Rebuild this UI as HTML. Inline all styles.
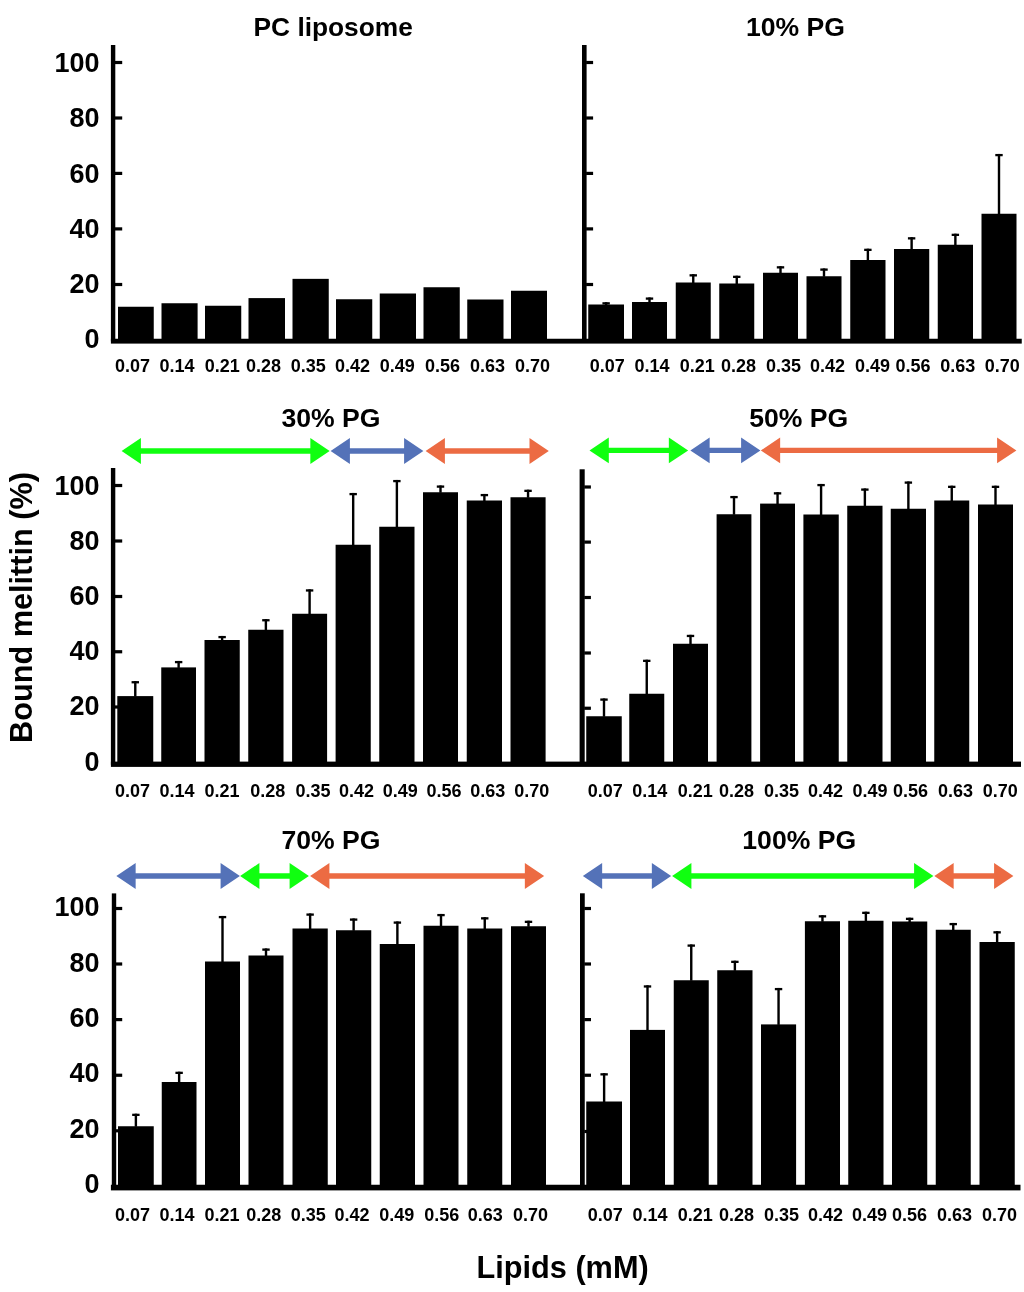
<!DOCTYPE html>
<html lang="en"><head><meta charset="utf-8"><title>Bound melittin vs lipids</title>
<style>html,body{margin:0;padding:0;background:#fff}svg{display:block}text{font-family:"Liberation Sans", Arial, Helvetica, sans-serif;font-weight:700;fill:#000}</style></head><body>
<svg width="1024" height="1292" viewBox="0 0 1024 1292">
<rect width="1024" height="1292" fill="#fff"/>
<g id="panelA">
<rect x="118" y="306.75" width="35.75" height="33.15"/>
<rect x="161.5" y="303.25" width="36.1" height="36.65"/>
<rect x="205" y="305.75" width="36.25" height="34.15"/>
<rect x="248.5" y="298.1" width="36.5" height="41.8"/>
<rect x="292.5" y="278.85" width="36.25" height="61.05"/>
<rect x="336" y="299.25" width="36.25" height="40.65"/>
<rect x="379.75" y="293.5" width="36.25" height="46.4"/>
<rect x="423.5" y="287.25" width="36.25" height="52.65"/>
<rect x="467.25" y="299.5" width="36.25" height="40.4"/>
<rect x="511" y="290.75" width="36" height="49.15"/>
</g>
<g id="panelB">
<rect x="588.25" y="304.5" width="35.75" height="35.4"/>
<rect x="604.92" y="302.2" width="2.4" height="2.8"/>
<rect x="602.42" y="302.2" width="7.4" height="2.3"/>
<rect x="632" y="302" width="35" height="37.9"/>
<rect x="648.3" y="297.45" width="2.4" height="5.05"/>
<rect x="645.8" y="297.45" width="7.4" height="2.3"/>
<rect x="675.75" y="282.5" width="35" height="57.4"/>
<rect x="692.05" y="274.2" width="2.4" height="8.8"/>
<rect x="689.55" y="274.2" width="7.4" height="2.3"/>
<rect x="719.25" y="283.5" width="35" height="56.4"/>
<rect x="735.55" y="275.7" width="2.4" height="8.3"/>
<rect x="733.05" y="275.7" width="7.4" height="2.3"/>
<rect x="763" y="272.75" width="35" height="67.15"/>
<rect x="779.3" y="266.2" width="2.4" height="7.05"/>
<rect x="776.8" y="266.2" width="7.4" height="2.3"/>
<rect x="806.5" y="276.25" width="35" height="63.65"/>
<rect x="822.8" y="268.45" width="2.4" height="8.3"/>
<rect x="820.3" y="268.45" width="7.4" height="2.3"/>
<rect x="850.25" y="260" width="35.25" height="79.9"/>
<rect x="866.67" y="248.7" width="2.4" height="11.8"/>
<rect x="864.17" y="248.7" width="7.4" height="2.3"/>
<rect x="894" y="249" width="35.25" height="90.9"/>
<rect x="910.42" y="237.2" width="2.4" height="12.3"/>
<rect x="907.92" y="237.2" width="7.4" height="2.3"/>
<rect x="937.75" y="244.75" width="35.25" height="95.15"/>
<rect x="954.17" y="233.7" width="2.4" height="11.55"/>
<rect x="951.67" y="233.7" width="7.4" height="2.3"/>
<rect x="981.5" y="213.75" width="35" height="126.15"/>
<rect x="997.8" y="153.95" width="2.4" height="60.3"/>
<rect x="995.3" y="153.95" width="7.4" height="2.3"/>
</g>
<g id="panelC">
<rect x="117.3" y="696.1" width="35.95" height="66.9"/>
<rect x="134.08" y="681.1" width="2.4" height="15.5"/>
<rect x="131.58" y="681.1" width="7.4" height="2.3"/>
<rect x="161.25" y="667.4" width="34.75" height="95.6"/>
<rect x="177.43" y="660.95" width="2.4" height="6.95"/>
<rect x="174.93" y="660.95" width="7.4" height="2.3"/>
<rect x="204.5" y="640" width="35.25" height="123"/>
<rect x="220.93" y="635.95" width="2.4" height="4.55"/>
<rect x="218.43" y="635.95" width="7.4" height="2.3"/>
<rect x="248.25" y="629.75" width="35.25" height="133.25"/>
<rect x="264.68" y="619.1" width="2.4" height="11.15"/>
<rect x="262.18" y="619.1" width="7.4" height="2.3"/>
<rect x="292.1" y="613.75" width="35" height="149.25"/>
<rect x="308.4" y="589.3" width="2.4" height="24.95"/>
<rect x="305.9" y="589.3" width="7.4" height="2.3"/>
<rect x="335.6" y="544.75" width="35.15" height="218.25"/>
<rect x="351.98" y="492.95" width="2.4" height="52.3"/>
<rect x="349.48" y="492.95" width="7.4" height="2.3"/>
<rect x="379.25" y="526.75" width="35.25" height="236.25"/>
<rect x="395.68" y="479.95" width="2.4" height="47.3"/>
<rect x="393.18" y="479.95" width="7.4" height="2.3"/>
<rect x="423" y="492.25" width="35" height="270.75"/>
<rect x="439.3" y="485.45" width="2.4" height="7.3"/>
<rect x="436.8" y="485.45" width="7.4" height="2.3"/>
<rect x="466.75" y="500.5" width="35.25" height="262.5"/>
<rect x="483.18" y="493.95" width="2.4" height="7.05"/>
<rect x="480.68" y="493.95" width="7.4" height="2.3"/>
<rect x="510.5" y="497.25" width="35.1" height="265.75"/>
<rect x="526.85" y="489.7" width="2.4" height="8.05"/>
<rect x="524.35" y="489.7" width="7.4" height="2.3"/>
</g>
<g id="panelD">
<rect x="586.25" y="716.25" width="35.5" height="46.75"/>
<rect x="602.8" y="698.45" width="2.4" height="18.3"/>
<rect x="600.3" y="698.45" width="7.4" height="2.3"/>
<rect x="629.25" y="693.75" width="35" height="69.25"/>
<rect x="645.55" y="659.7" width="2.4" height="34.55"/>
<rect x="643.05" y="659.7" width="7.4" height="2.3"/>
<rect x="673" y="643.75" width="35" height="119.25"/>
<rect x="689.3" y="634.8" width="2.4" height="9.45"/>
<rect x="686.8" y="634.8" width="7.4" height="2.3"/>
<rect x="716.6" y="514.25" width="34.8" height="248.75"/>
<rect x="732.8" y="495.95" width="2.4" height="18.8"/>
<rect x="730.3" y="495.95" width="7.4" height="2.3"/>
<rect x="760.1" y="503.6" width="34.9" height="259.4"/>
<rect x="776.35" y="492.2" width="2.4" height="11.9"/>
<rect x="773.85" y="492.2" width="7.4" height="2.3"/>
<rect x="803.4" y="514.5" width="35.35" height="248.5"/>
<rect x="819.88" y="483.95" width="2.4" height="31.05"/>
<rect x="817.38" y="483.95" width="7.4" height="2.3"/>
<rect x="847.25" y="505.75" width="35.25" height="257.25"/>
<rect x="863.67" y="488.45" width="2.4" height="17.8"/>
<rect x="861.17" y="488.45" width="7.4" height="2.3"/>
<rect x="890.75" y="508.75" width="35.25" height="254.25"/>
<rect x="907.17" y="481.45" width="2.4" height="27.8"/>
<rect x="904.67" y="481.45" width="7.4" height="2.3"/>
<rect x="934.25" y="500.5" width="35" height="262.5"/>
<rect x="950.55" y="485.7" width="2.4" height="15.3"/>
<rect x="948.05" y="485.7" width="7.4" height="2.3"/>
<rect x="978" y="504.5" width="35" height="258.5"/>
<rect x="994.3" y="485.7" width="2.4" height="19.3"/>
<rect x="991.8" y="485.7" width="7.4" height="2.3"/>
</g>
<g id="panelE">
<rect x="118" y="1126.25" width="35.75" height="59.75"/>
<rect x="134.68" y="1113.7" width="2.4" height="13.05"/>
<rect x="132.18" y="1113.7" width="7.4" height="2.3"/>
<rect x="161.75" y="1082" width="34.75" height="104"/>
<rect x="177.93" y="1071.7" width="2.4" height="10.8"/>
<rect x="175.43" y="1071.7" width="7.4" height="2.3"/>
<rect x="205" y="961.5" width="35" height="224.5"/>
<rect x="221.3" y="915.95" width="2.4" height="46.05"/>
<rect x="218.8" y="915.95" width="7.4" height="2.3"/>
<rect x="248.5" y="955.5" width="35" height="230.5"/>
<rect x="264.8" y="948.45" width="2.4" height="7.55"/>
<rect x="262.3" y="948.45" width="7.4" height="2.3"/>
<rect x="292.5" y="928.5" width="35.25" height="257.5"/>
<rect x="308.93" y="913.45" width="2.4" height="15.55"/>
<rect x="306.43" y="913.45" width="7.4" height="2.3"/>
<rect x="336" y="930.25" width="35.25" height="255.75"/>
<rect x="352.43" y="918.45" width="2.4" height="12.3"/>
<rect x="349.93" y="918.45" width="7.4" height="2.3"/>
<rect x="379.75" y="944" width="35.25" height="242"/>
<rect x="396.18" y="921.45" width="2.4" height="23.05"/>
<rect x="393.68" y="921.45" width="7.4" height="2.3"/>
<rect x="423.5" y="925.75" width="35" height="260.25"/>
<rect x="439.8" y="913.95" width="2.4" height="12.3"/>
<rect x="437.3" y="913.95" width="7.4" height="2.3"/>
<rect x="467.25" y="928.5" width="35" height="257.5"/>
<rect x="483.55" y="917.2" width="2.4" height="11.8"/>
<rect x="481.05" y="917.2" width="7.4" height="2.3"/>
<rect x="511" y="926.25" width="35" height="259.75"/>
<rect x="527.3" y="920.7" width="2.4" height="6.05"/>
<rect x="524.8" y="920.7" width="7.4" height="2.3"/>
</g>
<g id="panelF">
<rect x="586.25" y="1101.5" width="35.75" height="84.5"/>
<rect x="602.92" y="1073.2" width="2.4" height="28.8"/>
<rect x="600.42" y="1073.2" width="7.4" height="2.3"/>
<rect x="630" y="1029.9" width="35" height="156.1"/>
<rect x="646.3" y="985.3" width="2.4" height="45.1"/>
<rect x="643.8" y="985.3" width="7.4" height="2.3"/>
<rect x="673.75" y="980.25" width="35" height="205.75"/>
<rect x="690.05" y="944.45" width="2.4" height="36.3"/>
<rect x="687.55" y="944.45" width="7.4" height="2.3"/>
<rect x="717.25" y="970.25" width="35.25" height="215.75"/>
<rect x="733.67" y="960.7" width="2.4" height="10.05"/>
<rect x="731.17" y="960.7" width="7.4" height="2.3"/>
<rect x="761" y="1024.4" width="35.1" height="161.6"/>
<rect x="777.35" y="987.95" width="2.4" height="36.95"/>
<rect x="774.85" y="987.95" width="7.4" height="2.3"/>
<rect x="804.9" y="921.25" width="35.1" height="264.75"/>
<rect x="821.25" y="915.2" width="2.4" height="6.55"/>
<rect x="818.75" y="915.2" width="7.4" height="2.3"/>
<rect x="848.25" y="920.75" width="35.25" height="265.25"/>
<rect x="864.67" y="911.7" width="2.4" height="9.55"/>
<rect x="862.17" y="911.7" width="7.4" height="2.3"/>
<rect x="892" y="921.5" width="35.25" height="264.5"/>
<rect x="908.42" y="917.7" width="2.4" height="4.3"/>
<rect x="905.92" y="917.7" width="7.4" height="2.3"/>
<rect x="935.75" y="929.75" width="35" height="256.25"/>
<rect x="952.05" y="922.95" width="2.4" height="7.3"/>
<rect x="949.55" y="922.95" width="7.4" height="2.3"/>
<rect x="979.5" y="942" width="35.25" height="244"/>
<rect x="995.92" y="931.2" width="2.4" height="11.3"/>
<rect x="993.42" y="931.2" width="7.4" height="2.3"/>
</g>
<rect x="110.9" y="338.75" width="910.85" height="4.85"/>
<rect x="110.9" y="761.6" width="910.1" height="5.3"/>
<rect x="110.9" y="1184.75" width="909.6" height="5.65"/>
<rect x="110.9" y="45" width="4.4" height="296.4"/>
<rect x="114.8" y="60.9" width="7.4" height="3.2"/>
<rect x="114.8" y="116.4" width="7.4" height="3.2"/>
<rect x="114.8" y="171.8" width="7.4" height="3.2"/>
<rect x="114.8" y="227.3" width="7.4" height="3.2"/>
<rect x="114.8" y="282.9" width="7.4" height="3.2"/>
<rect x="582" y="45" width="4.6" height="296.4"/>
<rect x="586.1" y="60.9" width="7" height="3.2"/>
<rect x="586.1" y="116.4" width="7" height="3.2"/>
<rect x="586.1" y="171.8" width="7" height="3.2"/>
<rect x="586.1" y="227.3" width="7" height="3.2"/>
<rect x="586.1" y="282.9" width="7" height="3.2"/>
<rect x="110.9" y="468" width="4.4" height="296.9"/>
<rect x="114.8" y="483.9" width="7.4" height="3.2"/>
<rect x="114.8" y="539.4" width="7.4" height="3.2"/>
<rect x="114.8" y="594.9" width="7.4" height="3.2"/>
<rect x="114.8" y="650.15" width="7.4" height="3.2"/>
<rect x="114.8" y="705.4" width="7.4" height="3.2"/>
<rect x="579.6" y="469.3" width="5.1" height="295.6"/>
<rect x="584.2" y="485.4" width="6.7" height="3.2"/>
<rect x="584.2" y="540.5" width="6.7" height="3.2"/>
<rect x="584.2" y="595.9" width="6.7" height="3.2"/>
<rect x="584.2" y="651.4" width="6.7" height="3.2"/>
<rect x="584.2" y="706.65" width="6.7" height="3.2"/>
<rect x="111.8" y="893.4" width="4.4" height="295"/>
<rect x="115.7" y="906.9" width="6.5" height="3.2"/>
<rect x="115.7" y="962.4" width="6.5" height="3.2"/>
<rect x="115.7" y="1018" width="6.5" height="3.2"/>
<rect x="115.7" y="1073.65" width="6.5" height="3.2"/>
<rect x="115.7" y="1129.2" width="6.5" height="3.2"/>
<rect x="580" y="893.3" width="4.75" height="295.1"/>
<rect x="584.25" y="906.9" width="6.75" height="3.2"/>
<rect x="584.25" y="962.4" width="6.75" height="3.2"/>
<rect x="584.25" y="1018" width="6.75" height="3.2"/>
<rect x="584.25" y="1073.65" width="6.75" height="3.2"/>
<rect x="584.25" y="1129.9" width="6.75" height="3.2"/>
<text x="99.5" y="72.2" font-size="27" text-anchor="end">100</text>
<text x="99.5" y="127.4" font-size="27" text-anchor="end">80</text>
<text x="99.5" y="182.6" font-size="27" text-anchor="end">60</text>
<text x="99.5" y="237.8" font-size="27" text-anchor="end">40</text>
<text x="99.5" y="293" font-size="27" text-anchor="end">20</text>
<text x="99.5" y="348.1" font-size="27" text-anchor="end">0</text>
<text x="99.5" y="494.6" font-size="27" text-anchor="end">100</text>
<text x="99.5" y="549.8" font-size="27" text-anchor="end">80</text>
<text x="99.5" y="605" font-size="27" text-anchor="end">60</text>
<text x="99.5" y="660.2" font-size="27" text-anchor="end">40</text>
<text x="99.5" y="715.4" font-size="27" text-anchor="end">20</text>
<text x="99.5" y="770.6" font-size="27" text-anchor="end">0</text>
<text x="99.5" y="916.4" font-size="27" text-anchor="end">100</text>
<text x="99.5" y="971.7" font-size="27" text-anchor="end">80</text>
<text x="99.5" y="1027" font-size="27" text-anchor="end">60</text>
<text x="99.5" y="1082.2" font-size="27" text-anchor="end">40</text>
<text x="99.5" y="1137.5" font-size="27" text-anchor="end">20</text>
<text x="99.5" y="1192.7" font-size="27" text-anchor="end">0</text>
<text x="132.45" y="371.8" font-size="18" text-anchor="middle">0.07</text>
<text x="176.95" y="371.8" font-size="18" text-anchor="middle">0.14</text>
<text x="222.25" y="371.8" font-size="18" text-anchor="middle">0.21</text>
<text x="263.62" y="371.8" font-size="18" text-anchor="middle">0.28</text>
<text x="308.25" y="371.8" font-size="18" text-anchor="middle">0.35</text>
<text x="352.62" y="371.8" font-size="18" text-anchor="middle">0.42</text>
<text x="397.38" y="371.8" font-size="18" text-anchor="middle">0.49</text>
<text x="442.62" y="371.8" font-size="18" text-anchor="middle">0.56</text>
<text x="487.62" y="371.8" font-size="18" text-anchor="middle">0.63</text>
<text x="532.62" y="371.8" font-size="18" text-anchor="middle">0.70</text>
<text x="607.38" y="371.8" font-size="18" text-anchor="middle">0.07</text>
<text x="652.12" y="371.8" font-size="18" text-anchor="middle">0.14</text>
<text x="697.25" y="371.8" font-size="18" text-anchor="middle">0.21</text>
<text x="738.62" y="371.8" font-size="18" text-anchor="middle">0.28</text>
<text x="783.5" y="371.8" font-size="18" text-anchor="middle">0.35</text>
<text x="827.62" y="371.8" font-size="18" text-anchor="middle">0.42</text>
<text x="872.62" y="371.8" font-size="18" text-anchor="middle">0.49</text>
<text x="913.12" y="371.8" font-size="18" text-anchor="middle">0.56</text>
<text x="957.88" y="371.8" font-size="18" text-anchor="middle">0.63</text>
<text x="1002.38" y="371.8" font-size="18" text-anchor="middle">0.70</text>
<text x="132.62" y="797" font-size="18" text-anchor="middle">0.07</text>
<text x="177" y="797" font-size="18" text-anchor="middle">0.14</text>
<text x="222.12" y="797" font-size="18" text-anchor="middle">0.21</text>
<text x="267.88" y="797" font-size="18" text-anchor="middle">0.28</text>
<text x="313.12" y="797" font-size="18" text-anchor="middle">0.35</text>
<text x="356.62" y="797" font-size="18" text-anchor="middle">0.42</text>
<text x="400.38" y="797" font-size="18" text-anchor="middle">0.49</text>
<text x="444.12" y="797" font-size="18" text-anchor="middle">0.56</text>
<text x="487.88" y="797" font-size="18" text-anchor="middle">0.63</text>
<text x="531.88" y="797" font-size="18" text-anchor="middle">0.70</text>
<text x="605.25" y="797" font-size="18" text-anchor="middle">0.07</text>
<text x="649.88" y="797" font-size="18" text-anchor="middle">0.14</text>
<text x="695.25" y="797" font-size="18" text-anchor="middle">0.21</text>
<text x="736.62" y="797" font-size="18" text-anchor="middle">0.28</text>
<text x="781.5" y="797" font-size="18" text-anchor="middle">0.35</text>
<text x="825.5" y="797" font-size="18" text-anchor="middle">0.42</text>
<text x="870.12" y="797" font-size="18" text-anchor="middle">0.49</text>
<text x="910.5" y="797" font-size="18" text-anchor="middle">0.56</text>
<text x="955.5" y="797" font-size="18" text-anchor="middle">0.63</text>
<text x="1000.38" y="797" font-size="18" text-anchor="middle">0.70</text>
<text x="132.62" y="1221" font-size="18" text-anchor="middle">0.07</text>
<text x="177" y="1221" font-size="18" text-anchor="middle">0.14</text>
<text x="222.12" y="1221" font-size="18" text-anchor="middle">0.21</text>
<text x="263.75" y="1221" font-size="18" text-anchor="middle">0.28</text>
<text x="308.25" y="1221" font-size="18" text-anchor="middle">0.35</text>
<text x="352.12" y="1221" font-size="18" text-anchor="middle">0.42</text>
<text x="396.88" y="1221" font-size="18" text-anchor="middle">0.49</text>
<text x="441.88" y="1221" font-size="18" text-anchor="middle">0.56</text>
<text x="485.38" y="1221" font-size="18" text-anchor="middle">0.63</text>
<text x="530.5" y="1221" font-size="18" text-anchor="middle">0.70</text>
<text x="605.25" y="1221" font-size="18" text-anchor="middle">0.07</text>
<text x="650.12" y="1221" font-size="18" text-anchor="middle">0.14</text>
<text x="695.25" y="1221" font-size="18" text-anchor="middle">0.21</text>
<text x="736.62" y="1221" font-size="18" text-anchor="middle">0.28</text>
<text x="781.5" y="1221" font-size="18" text-anchor="middle">0.35</text>
<text x="825.5" y="1221" font-size="18" text-anchor="middle">0.42</text>
<text x="869.5" y="1221" font-size="18" text-anchor="middle">0.49</text>
<text x="909.62" y="1221" font-size="18" text-anchor="middle">0.56</text>
<text x="954.62" y="1221" font-size="18" text-anchor="middle">0.63</text>
<text x="999.5" y="1221" font-size="18" text-anchor="middle">0.70</text>
<text x="333.2" y="35.9" font-size="26.3" text-anchor="middle">PC liposome</text>
<text x="795.5" y="36.3" font-size="26.6" text-anchor="middle">10% PG</text>
<text x="330.95" y="426.8" font-size="26.6" text-anchor="middle">30% PG</text>
<text x="798.75" y="426.8" font-size="26.6" text-anchor="middle">50% PG</text>
<text x="331" y="849.2" font-size="26.6" text-anchor="middle">70% PG</text>
<text x="799.25" y="849.2" font-size="26.6" text-anchor="middle">100% PG</text>
<polygon fill="#10ff10" points="121.6,451 140.9,438.1 140.9,448.35 310.35,448.35 310.35,438.1 329.65,451 310.35,463.9 310.35,453.65 140.9,453.65 140.9,463.9"/>
<polygon fill="#5472b8" points="330.6,451 349.9,438.1 349.9,448.35 404.1,448.35 404.1,438.1 423.4,451 404.1,463.9 404.1,453.65 349.9,453.65 349.9,463.9"/>
<polygon fill="#ec6b43" points="425.6,451 444.9,438.1 444.9,448.35 529.5,448.35 529.5,438.1 548.8,451 529.5,463.9 529.5,453.65 444.9,453.65 444.9,463.9"/>
<polygon fill="#10ff10" points="589.5,450.4 608.8,437.5 608.8,447.75 668.85,447.75 668.85,437.5 688.15,450.4 668.85,463.3 668.85,453.05 608.8,453.05 608.8,463.3"/>
<polygon fill="#5472b8" points="690.35,450.4 709.65,437.5 709.65,447.75 741.1,447.75 741.1,437.5 760.4,450.4 741.1,463.3 741.1,453.05 709.65,453.05 709.65,463.3"/>
<polygon fill="#ec6b43" points="760.85,450.4 780.15,437.5 780.15,447.75 997.1,447.75 997.1,437.5 1016.4,450.4 997.1,463.3 997.1,453.05 780.15,453.05 780.15,463.3"/>
<polygon fill="#5472b8" points="116.35,876 135.65,863.1 135.65,873.35 220.6,873.35 220.6,863.1 239.9,876 220.6,888.9 220.6,878.65 135.65,878.65 135.65,888.9"/>
<polygon fill="#10ff10" points="240.1,876 259.4,863.1 259.4,873.35 289.6,873.35 289.6,863.1 308.9,876 289.6,888.9 289.6,878.65 259.4,878.65 259.4,888.9"/>
<polygon fill="#ec6b43" points="310.1,876 329.4,863.1 329.4,873.35 524.85,873.35 524.85,863.1 544.15,876 524.85,888.9 524.85,878.65 329.4,878.65 329.4,888.9"/>
<polygon fill="#5472b8" points="582.85,876 602.15,863.1 602.15,873.35 651.85,873.35 651.85,863.1 671.15,876 651.85,888.9 651.85,878.65 602.15,878.65 602.15,888.9"/>
<polygon fill="#10ff10" points="672.1,876 691.4,863.1 691.4,873.35 914.1,873.35 914.1,863.1 933.4,876 914.1,888.9 914.1,878.65 691.4,878.65 691.4,888.9"/>
<polygon fill="#ec6b43" points="934.35,876 953.65,863.1 953.65,873.35 994.1,873.35 994.1,863.1 1013.4,876 994.1,888.9 994.1,878.65 953.65,878.65 953.65,888.9"/>
<text transform="translate(31.8,743) rotate(-90)" font-size="30.7">Bound melittin (%)</text>
<text x="562.6" y="1277.9" font-size="30.7" text-anchor="middle">Lipids (mM)</text>
</svg></body></html>
